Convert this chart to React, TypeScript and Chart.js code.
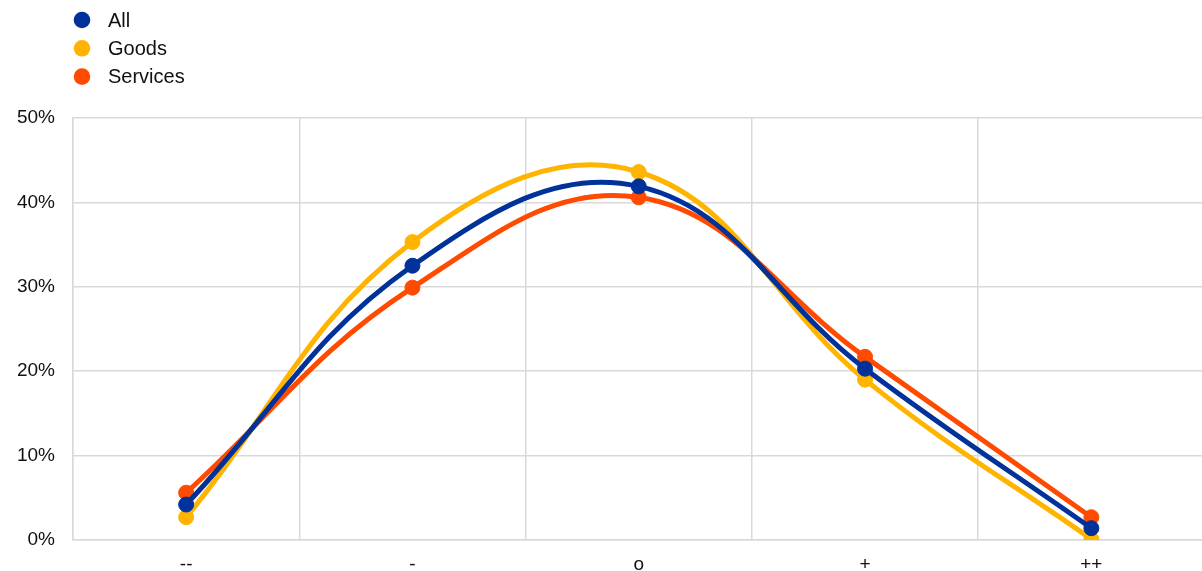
import React, { useEffect, useRef } from "react";
import { Chart, registerables } from "chart.js";

Chart.register(...registerables);

// Response categories (strong decrease ... strong increase)
const categories = ["--", "-", "o", "+", "++"];

// Share of respondents, in percent
const allValues = [4.2, 32.5, 41.9, 20.3, 1.4];
const goodsValues = [2.7, 35.3, 43.6, 19.0, 0.1];
const servicesValues = [5.6, 29.9, 40.6, 21.7, 2.7];

const seriesNames = ["All", "Goods", "Services"];
const seriesColors = ["#003299", "#FFB400", "#FF4B00"];

const FONT = "'Liberation Sans', Arial, sans-serif";

// Vertical legend in the top-left corner, built from the datasets
const stackedLegend = {
  id: "stackedLegend",
  afterDraw(chart: any) {
    const ctx = chart.ctx as CanvasRenderingContext2D;
    ctx.save();
    chart.data.datasets.forEach((ds: any, i: number) => {
      const cy = 20 + i * 28.3;
      ctx.beginPath();
      ctx.arc(82, cy, 8.3, 0, Math.PI * 2);
      ctx.fillStyle = ds.borderColor;
      ctx.fill();
      ctx.fillStyle = "#111";
      ctx.font = `20px ${FONT}`;
      ctx.textBaseline = "middle";
      ctx.textAlign = "left";
      ctx.fillText(ds.label, 108, cy + 1);
    });
    ctx.restore();
  },
};

export default function App() {
  const canvasRef = useRef<HTMLCanvasElement | null>(null);

  useEffect(() => {
    if (!canvasRef.current) return;
    const values = [allValues, goodsValues, servicesValues];
    const drawOrder = [0, 2, 1];
    const chart = new Chart(canvasRef.current, {
      type: "line",
      data: {
        labels: categories,
        datasets: values.map((v, i) => ({
          label: seriesNames[i],
          data: v,
          borderColor: seriesColors[i],
          backgroundColor: seriesColors[i],
          pointBackgroundColor: seriesColors[i],
          pointBorderColor: seriesColors[i],
          borderWidth: 5,
          pointRadius: 7.5,
          pointBorderWidth: 1,
          tension: 0.4,
          fill: false,
          order: drawOrder[i],
        })),
      },
      options: {
        animation: false,
        responsive: false,
        layout: { padding: { top: 118, right: 1, left: 0, bottom: 0 } },
        plugins: {
          legend: { display: false },
          tooltip: { enabled: false },
        },
        scales: {
          x: {
            offset: true,
            grid: { offset: true, color: "#d9d9d9", lineWidth: 1.5, drawTicks: false },
            border: { display: true, color: "#d9d9d9", width: 1.5 },
            ticks: { color: "#111", font: { family: FONT, size: 19 }, padding: 13 },
            afterFit(scale: any) {
              scale.height = 31;
            },
          },
          y: {
            min: 0,
            max: 50,
            ticks: {
              stepSize: 10,
              color: "#111",
              font: { family: FONT, size: 19 },
              padding: 18,
              callback: (v: any) => `${v}%`,
            },
            grid: { color: "#d9d9d9", lineWidth: 1.5, drawTicks: false },
            border: { display: true, color: "#d9d9d9", width: 1.5 },
            afterFit(scale: any) {
              scale.width = 73;
            },
          },
        },
      },
      plugins: [stackedLegend],
    });
    return () => chart.destroy();
  }, []);

  return (
    <div
      style={{
        position: "fixed",
        left: 0,
        top: 0,
        width: 1202,
        height: 571,
        overflow: "hidden",
        background: "#fff",
      }}
    >
      <canvas ref={canvasRef} width={1213} height={571} style={{ display: "block" }} />
    </div>
  );
}
